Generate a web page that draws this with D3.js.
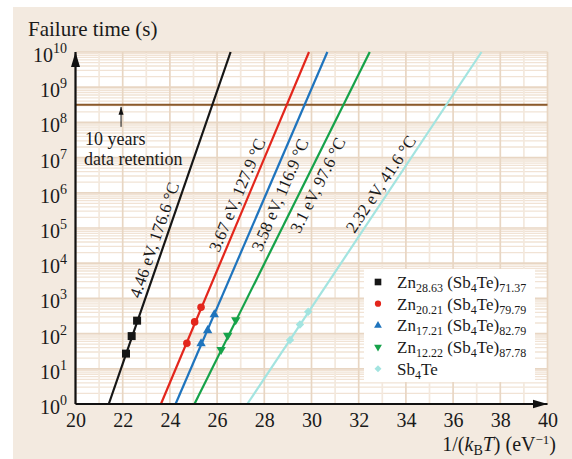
<!DOCTYPE html>
<html>
<head>
<meta charset="utf-8">
<script src="https://cdn.jsdelivr.net/npm/d3@7"></script>
<style>
body{margin:0;background:#fff;}
text{font-family:"Liberation Serif","Times New Roman",serif;fill:#1a1a1a;}
</style>
</head>
<body>
<div id="chart"></div>
<script>
// composition Zn_a (Sb4Te)_b ; last one is pure Sb4Te
var znFrac   = ["28.63","20.21","17.21","12.22",null];
var sbteFrac = ["71.37","79.79","82.79","87.78",null];
var colors   = ["#161616","#e3261c","#1f74bd","#16a24a","#a3e4e0"];

// fit: activation energy (eV), 10 year retention temperature (C)
var actEnergy = [4.46, 3.67, 3.58, 3.1, 2.32];
var tenYearT  = [176.6, 127.9, 116.9, 97.6, 41.6];
// 1/(kT) where each fit line is at 1 s
var fitStart  = [21.41, 23.62, 24.24, 25.04, 27.28];

// measured points
var invKT = [
  [22.14, 22.38, 22.61],
  [24.72, 25.05, 25.32],
  [25.32, 25.60, 25.88],
  [26.17, 26.45, 26.79],
  [29.09, 29.51, 29.86]
];
var failTime = [
  [27, 85, 233],
  [53, 215, 560],
  [52, 123, 347],
  [35, 89, 245],
  [66, 182, 417]
];

var xTicks = [20,22,24,26,28,30,32,34,36,38,40];
var yExp   = [0,1,2,3,4,5,6,7,8,9,10];
var tenYears = 3.15e8;

// where the rotated line labels sit (log10 t of centre, sideways shift px)
var labelAt    = [4.66, 5.94, 5.94, 6.22, 6.25];
var labelShift = [-11.5, -12, 14, 14, -13];

var svg = d3.select("#chart").append("svg").attr("width",572).attr("height",459),
    margin = {top: 52, left: 75.5, right: 24.5, bottom: 55},
    width = 572 - margin.left - margin.right,
    height = 459 - margin.top - margin.bottom;

svg.append("rect").attr("x",13).attr("y",7).attr("width",559).attr("height",452).attr("fill","#f3eae0");

var defs = svg.append("defs");
defs.append("marker").attr("id","axArrow").attr("markerUnits","userSpaceOnUse")
  .attr("viewBox","0 -5 16 10").attr("refX",15).attr("refY",0)
  .attr("markerWidth",16).attr("markerHeight",10).attr("orient","auto")
  .append("path").attr("d","M0,-4.5L15,0L0,4.5Z").attr("fill","#111");
defs.append("marker").attr("id","smArrow").attr("markerUnits","userSpaceOnUse")
  .attr("viewBox","0 -3 8 6").attr("refX",8).attr("refY",0)
  .attr("markerWidth",8).attr("markerHeight",6).attr("orient","auto")
  .append("path").attr("d","M0,-2.5L8,0L0,2.5Z").attr("fill","#111");

var x = d3.scaleLinear().domain([20,40]).range([0,width]);
var y = d3.scaleLog().domain([1,1e10]).range([height,0]);

var g = svg.append("g").attr("transform","translate(" + margin.left + "," + margin.top + ")");

g.append("rect").attr("width",width).attr("height",height).attr("fill","#fff");

// grid
var minorY = [];
yExp.slice(0,-1).forEach(function(e){
  for (var m=2;m<10;m++) minorY.push(m*Math.pow(10,e));
});
g.selectAll(".hminor").data(minorY).enter().append("line")
  .attr("x1",0).attr("x2",width)
  .attr("y1",function(d){ return y(d); }).attr("y2",function(d){ return y(d); })
  .attr("stroke","#f1e3d5").attr("stroke-width",1.3);
var vAll = d3.range(20,41);
g.selectAll(".vgrid").data(vAll).enter().append("line")
  .attr("y1",0).attr("y2",height)
  .attr("x1",function(d){ return x(d); }).attr("x2",function(d){ return x(d); })
  .attr("stroke",function(d){ return d%2==0 ? "#e8d6c3" : "#f3e8dd"; })
  .attr("stroke-width",1.7);
g.selectAll(".hmajor").data(yExp).enter().append("line")
  .attr("x1",0).attr("x2",width)
  .attr("y1",function(d){ return y(Math.pow(10,d)); }).attr("y2",function(d){ return y(Math.pow(10,d)); })
  .attr("stroke","#e8d6c3").attr("stroke-width",1.7);

// 10 year line
g.append("line").attr("x1",0).attr("x2",width)
  .attr("y1",y(tenYears)).attr("y2",y(tenYears))
  .attr("stroke","#8b5a2b").attr("stroke-width",2);
g.append("line").attr("x1",x(21.93)).attr("x2",x(21.93))
  .attr("y1",y(tenYears)+22).attr("y2",y(tenYears)+2)
  .attr("stroke","#111").attr("stroke-width",1).attr("marker-end","url(#smArrow)");
g.append("text").attr("x",9.5).attr("y",93).attr("font-size","18px").text("10 years");
g.append("text").attr("x",8.5).attr("y",113).attr("font-size","18px").text("data retention");

// fit lines
function lineX(i, lt){ return fitStart[i] + lt*Math.LN10/actEnergy[i]; }
var series = d3.range(colors.length);

g.selectAll(".fit").data(series).enter().append("line")
  .attr("x1",function(i){ return x(lineX(i,0)); })
  .attr("y1",y(1))
  .attr("x2",function(i){ return x(lineX(i,10)); })
  .attr("y2",y(1e10))
  .attr("stroke",function(i){ return colors[i]; })
  .attr("stroke-width",2.2);

// line labels
g.selectAll(".flab").data(series).enter().append("text")
  .attr("font-size","17px").attr("text-anchor","middle").attr("dy","0.35em")
  .attr("transform",function(i){
    var px = x(lineX(i,labelAt[i])) + labelShift[i];
    var py = y(Math.pow(10,labelAt[i]));
    var ang = Math.atan2(y(1e10)-y(1), x(lineX(i,10))-x(lineX(i,0))) * 180/Math.PI;
    return "translate(" + px + "," + py + ") rotate(" + ang + ")";
  })
  .text(function(i){ return actEnergy[i] + " eV, " + tenYearT[i] + " \u00b0C"; });

// markers
function sym(i, size){
  if (i==0) return d3.symbol().type(d3.symbolSquare).size(size)();
  if (i==1) return d3.symbol().type(d3.symbolCircle).size(size*0.7)();
  if (i==2 || i==3) return d3.symbol().type(d3.symbolTriangle).size(size*0.6)();
  return d3.symbol().type(d3.symbolSquare).size(size*0.55)();
}
function symRot(i){ return i==3 ? 180 : (i==4 ? 45 : 0); }

var pts = [];
series.forEach(function(i){
  invKT[i].forEach(function(v,j){ pts.push({s:i, x:v, t:failTime[i][j]}); });
});
g.selectAll(".pt").data(pts).enter().append("path")
  .attr("d",function(d){ return sym(d.s,64); })
  .attr("transform",function(d){ return "translate(" + x(d.x) + "," + y(d.t) + ") rotate(" + symRot(d.s) + ")"; })
  .attr("fill",function(d){ return colors[d.s]; });

// axes
g.append("g")
  .attr("transform","translate(0," + height + ")")
  .call(d3.axisBottom(x).tickValues(xTicks).tickSize(0).tickPadding(9).tickFormat(d3.format("d")))
  .call(function(a){ a.select(".domain").remove(); })
  .selectAll("text").attr("font-size","20px").attr("font-family","Liberation Serif").attr("fill","#1a1a1a");

var yAx = g.append("g")
  .call(d3.axisLeft(y).tickValues(yExp.map(function(e){ return Math.pow(10,e); })).tickSize(0).tickPadding(8.5).tickFormat(""))
  .call(function(a){ a.select(".domain").remove(); });
yAx.selectAll("text").attr("font-size","20px").attr("font-family","Liberation Serif").attr("fill","#1a1a1a")
  .attr("dy","0.47em")
  .each(function(d){
    var t = d3.select(this);
    t.append("tspan").text("10");
    t.append("tspan").attr("font-size","14px").attr("dy","-9").text(Math.round(Math.log10(d)));
  });

g.append("line").attr("x1",0).attr("x2",width).attr("y1",height).attr("y2",height)
  .attr("stroke","#111").attr("stroke-width",2.2).attr("marker-end","url(#axArrow)");
g.append("line").attr("x1",0).attr("x2",0).attr("y1",height).attr("y2",0)
  .attr("stroke","#111").attr("stroke-width",2.2).attr("marker-end","url(#axArrow)");

// titles
svg.append("text").attr("x",28).attr("y",35.5).attr("font-size","21px").text("Failure time (s)");
var xt = svg.append("text").attr("x",556).attr("y",451).attr("font-size","20px").attr("text-anchor","end");
xt.append("tspan").text("1/(");
xt.append("tspan").attr("font-style","italic").text("k");
xt.append("tspan").attr("font-size","14px").attr("dy","4").text("B");
xt.append("tspan").attr("font-style","italic").attr("dy","-4").text("T");
xt.append("tspan").text(") (eV");
xt.append("tspan").attr("font-size","13px").attr("dy","-7").text("\u22121");
xt.append("tspan").attr("dy","7").text(")");

// legend
var lg = svg.append("g");
lg.append("rect").attr("x",364).attr("y",269).attr("width",171).attr("height",113).attr("fill","#fff");
series.forEach(function(i){
  var cy = 282 + i*21.7;
  lg.append("path").attr("d",sym(i,44))
    .attr("transform","translate(378," + cy + ") rotate(" + symRot(i) + ")")
    .attr("fill",colors[i]);
  var parts = znFrac[i] ? [["Zn",0],[znFrac[i],1],[" (Sb",0],["4",1],["Te)",0],[sbteFrac[i],1]]
                        : [["Sb",0],["4",1],["Te",0]];
  var t = lg.append("text").attr("x",397).attr("y",cy+6).attr("font-size","17px");
  var low = 0;
  parts.forEach(function(p){
    var sp = t.append("tspan").text(p[0]);
    if (p[1]) { sp.attr("font-size","12px").attr("dy", low ? 0 : 4); low = 1; }
    else { sp.attr("dy", low ? -4 : 0); low = 0; }
  });
});
</script>
</body>
</html>
